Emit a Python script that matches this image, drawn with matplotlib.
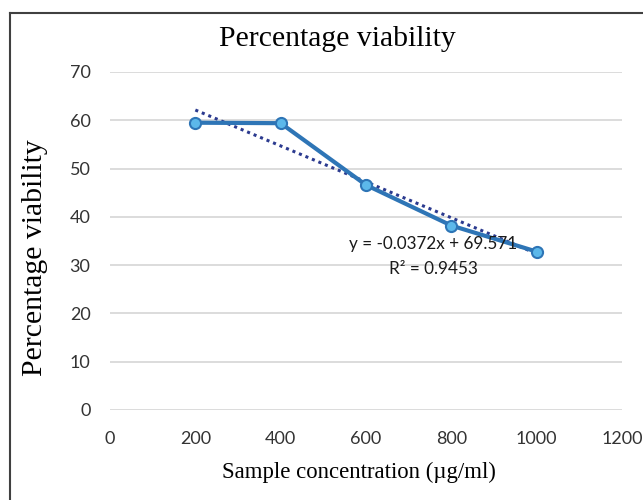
import numpy as np
import matplotlib
matplotlib.use("Agg")
import matplotlib.pyplot as plt
from matplotlib.lines import Line2D

# data
concentration = [200, 400, 600, 800, 1000]
viability = [59.5, 59.4, 46.6, 38.2, 32.8]
trend_slope = -0.0372
trend_intercept = 69.571
trend_r2 = 0.9453
x_ticks = [0, 200, 400, 600, 800, 1000, 1200]
y_ticks = [0, 10, 20, 30, 40, 50, 60, 70]

serif = "Liberation Serif"
sans = "Lato"

fig = plt.figure(figsize=(6.43, 5.0), dpi=100)
ax = fig.add_axes([110 / 643, 90 / 500, 512 / 643, 338 / 500])

# gridlines
ax.set_axisbelow(True)
ax.yaxis.grid(True, color="#d9d9d9", linewidth=1.3)
for s in ax.spines.values():
    s.set_visible(False)
ax.tick_params(length=0, labelsize=13, colors="#333333")
ax.tick_params(axis="x", pad=15)
ax.tick_params(axis="y", pad=14)

ax.plot(concentration, viability, color="#2e75b6", linewidth=3,
        marker="o", markersize=8, markerfacecolor="#5cb8ea",
        markeredgecolor="#2e75b6", markeredgewidth=1.5, zorder=3)

# linear trendline (Excel style)
tx = np.array([concentration[0], concentration[-1]])
ax.plot(tx, trend_slope * tx + trend_intercept, color="#2b3a8f",
        linewidth=2.2, linestyle=(0, (1, 1.3)), zorder=2)

ax.set_xlim(0, 1200)
ax.set_ylim(0, 70)
ax.set_xticks(x_ticks)
ax.set_yticks(y_ticks)
ax.set_xticklabels([str(v) for v in x_ticks], family=sans)
ax.set_yticklabels([str(v) for v in y_ticks], family=sans)

ax.text(757, 34.4, "y = -0.0372x + 69.571", ha="center", va="center",
        family=sans, fontsize=12.3, color="#1a1a1a", zorder=4)
ax.text(757, 29.2, "R² = %.4f" % trend_r2, ha="center", va="center",
        family=sans, fontsize=12.3, color="#1a1a1a", zorder=4)

fig.text(337 / 643, 1 - 39 / 500, "Percentage viability", ha="center",
         va="center", family=serif, fontsize=21.4)
fig.text(359 / 643, 1 - 472 / 500, "Sample concentration (µg/ml)",
         ha="center", va="center", family=serif, fontsize=16.4)
fig.text(35 / 643, 1 - 258 / 500, "Percentage viability", ha="center",
         va="center", rotation=90, family=serif, fontsize=21.4)

# outer chart border (left and top)
fig.add_artist(Line2D([10 / 643, 10 / 643], [0, 1 - 13 / 500],
                      transform=fig.transFigure, color="#404040", linewidth=1.5))
fig.add_artist(Line2D([10 / 643, 1], [1 - 13 / 500, 1 - 13 / 500],
                      transform=fig.transFigure, color="#404040", linewidth=1.5))

fig.savefig("out.png", dpi=100)
